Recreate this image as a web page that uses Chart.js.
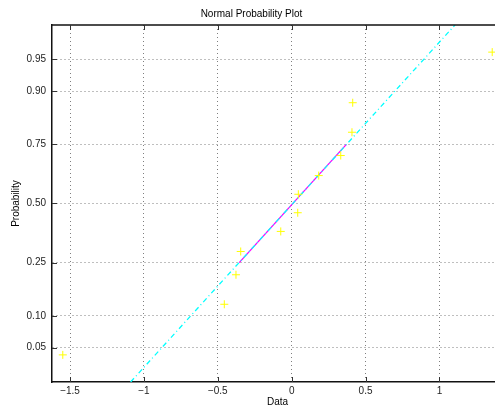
<html>
<head>
<meta charset="utf8"/>
<title>Normal Probability Plot</title>
<script src="https://cdn.jsdelivr.net/npm/chart.js"></script>
<style type="text/css">
html, body{
  margin: 0;
  padding: 0;
  background-color: #fff;
}
#wrap{
  width: 495px;
  height: 407px;
  overflow: hidden;
}
</style>
</head>
<body>
<div id="wrap">
  <canvas id="probChart" width="510" height="407"></canvas>
</div>
<script>
// sample values (sorted) and their plotting probabilities
const dataX = [-1.549, -0.456, -0.377, -0.345, -0.074, 0.041, 0.045, 0.183, 0.332, 0.408, 0.413, 1.357];
const dataP = [0.042, 0.125, 0.208, 0.292, 0.375, 0.458, 0.542, 0.625, 0.708, 0.792, 0.875, 0.958];

// fitted line through the quartiles, and its extension
const quartX = [-0.355, 0.37];
const quartP = [0.25, 0.75];
const extX = [-1.09, 1.105];
const extP = [0.0208, 0.9792];

const xTicks = [-1.5, -1, -0.5, 0, 0.5, 1];
const pTicks = [0.05, 0.10, 0.25, 0.50, 0.75, 0.90, 0.95];

const xMin = -1.622, xMax = 1.43;
const pMin = 0.0208, pMax = 0.9792;

// inverse normal cdf (Acklam)
function probit( p ){
  const a = [-39.69683028665376, 220.9460984245205, -275.9285104469687, 138.3577518672690, -30.66479806614716, 2.506628277459239];
  const b = [-54.47609879822406, 161.5858368580409, -155.6989798598866, 66.80131188771972, -13.28068155288572];
  const c = [-0.007784894002430293, -0.3223964580411365, -2.400758277161838, -2.549732539343734, 4.374664141464968, 2.938163982698783];
  const d = [0.007784695709041462, 0.3224671290700398, 2.445134137142996, 3.754408661907416];
  const pl = 0.02425;
  let q, r;
  if( p < pl ){
    q = Math.sqrt( -2 * Math.log( p ) );
    return (((((c[0]*q+c[1])*q+c[2])*q+c[3])*q+c[4])*q+c[5]) / ((((d[0]*q+d[1])*q+d[2])*q+d[3])*q+1);
  }
  if( p > 1 - pl ){
    q = Math.sqrt( -2 * Math.log( 1 - p ) );
    return -(((((c[0]*q+c[1])*q+c[2])*q+c[3])*q+c[4])*q+c[5]) / ((((d[0]*q+d[1])*q+d[2])*q+d[3])*q+1);
  }
  q = p - 0.5;
  r = q * q;
  return (((((a[0]*r+a[1])*r+a[2])*r+a[3])*r+a[4])*r+a[5])*q / (((((b[0]*r+b[1])*r+b[2])*r+b[3])*r+b[4])*r+1);
}

// probability axis: linear in probit space
class ProbitScale extends Chart.LinearScale {
  getPixelForValue( value ){
    const z0 = probit( this.min ), z1 = probit( this.max );
    return this.getPixelForDecimal( ( probit( value ) - z0 ) / ( z1 - z0 ) );
  }
}
ProbitScale.id = 'probit';
ProbitScale.defaults = Chart.LinearScale.defaults;
Chart.register( ProbitScale );

function toPoints( xs, ps ){
  return xs.map( function( x, i ){ return { x: x, y: ps[i] }; } );
}

// inward tick marks and top frame line
const frameTicks = {
  id: 'frameTicks',
  afterDraw( chart ){
    const ctx = chart.ctx;
    const area = chart.chartArea;
    const sx = chart.scales.x, sy = chart.scales.y;
    ctx.save();
    ctx.strokeStyle = '#111';
    ctx.lineWidth = 1.5;
    ctx.beginPath();
    ctx.moveTo( area.left, area.top );
    ctx.lineTo( area.right + 10, area.top );
    ctx.stroke();
    ctx.lineWidth = 1;
    ctx.strokeStyle = '#333';
    ctx.beginPath();
    xTicks.forEach( function( v ){
      const px = Math.round( sx.getPixelForValue( v ) ) + 0.5;
      ctx.moveTo( px, area.bottom );
      ctx.lineTo( px, area.bottom - 5 );
      ctx.moveTo( px, area.top );
      ctx.lineTo( px, area.top + 5 );
    });
    pTicks.forEach( function( v ){
      const py = Math.round( sy.getPixelForValue( v ) ) + 0.5;
      ctx.moveTo( area.left, py );
      ctx.lineTo( area.left + 5, py );
    });
    ctx.stroke();
    ctx.restore();
  }
};

Chart.defaults.font.family = '"Liberation Sans", Arial, sans-serif';
Chart.defaults.font.size = 10;
Chart.defaults.color = '#222';

new Chart( document.getElementById( 'probChart' ), {
  type: 'scatter',
  data: {
    datasets: [
      {
        label: 'data',
        data: toPoints( dataX, dataP ),
        showLine: false,
        pointStyle: 'cross',
        pointRadius: 4,
        pointBorderWidth: 1,
        pointBorderColor: '#ffff00',
        pointBackgroundColor: '#ffff00'
      },
      {
        label: 'extension',
        data: toPoints( extX, extP ),
        showLine: true,
        borderColor: '#00ffff',
        borderWidth: 1.3,
        borderDash: [5, 3, 1, 3],
        pointRadius: 0
      },
      {
        label: 'quartile fit',
        data: toPoints( quartX, quartP ),
        showLine: true,
        borderColor: '#ff00ff',
        borderWidth: 1.3,
        pointRadius: 0
      }
    ]
  },
  options: {
    responsive: false,
    animation: false,
    devicePixelRatio: 1,
    events: [],
    layout: { padding: { left: 0, right: 7, top: 0, bottom: 0 } },
    plugins: {
      legend: { display: false },
      tooltip: { enabled: false },
      title: {
        display: true,
        text: 'Normal Probability Plot',
        color: '#000',
        font: { size: 10, weight: 'normal' },
        padding: { top: 8, bottom: 5 }
      }
    },
    scales: {
      x: {
        type: 'linear',
        min: xMin,
        max: xMax,
        bounds: 'data',
        afterBuildTicks: function( scale ){
          scale.ticks = xTicks.map( function( v ){ return { value: v }; } );
        },
        afterFit: function( scale ){ scale.height = 25; },
        grid: { color: 'rgba(0,0,0,0.5)', lineWidth: 1, drawTicks: false },
        border: { display: true, color: '#111', width: 1.5, dash: [1, 3] },
        ticks: {
          padding: 3,
          maxRotation: 0,
          callback: function( v ){ return ( v < 0 ? '\u2212' : '' ) + Math.abs( v ); }
        },
        title: { display: true, text: 'Data', color: '#000', padding: { top: 0, bottom: -1 } }
      },
      y: {
        type: 'probit',
        min: pMin,
        max: pMax,
        bounds: 'data',
        afterBuildTicks: function( scale ){
          scale.ticks = pTicks.map( function( v ){ return { value: v }; } );
        },
        afterFit: function( scale ){ scale.width = 52; },
        grid: { color: 'rgba(0,0,0,0.5)', lineWidth: 1, drawTicks: false },
        border: { display: true, color: '#111', width: 1.5, dash: [1, 3] },
        ticks: {
          padding: 6,
          callback: function( v ){ return Number( v ).toFixed( 2 ); }
        },
        title: { display: true, text: 'Probability', color: '#000', padding: { top: 10, bottom: 0 } }
      }
    }
  },
  plugins: [ frameTicks ]
});
</script>
</body>
</html>
